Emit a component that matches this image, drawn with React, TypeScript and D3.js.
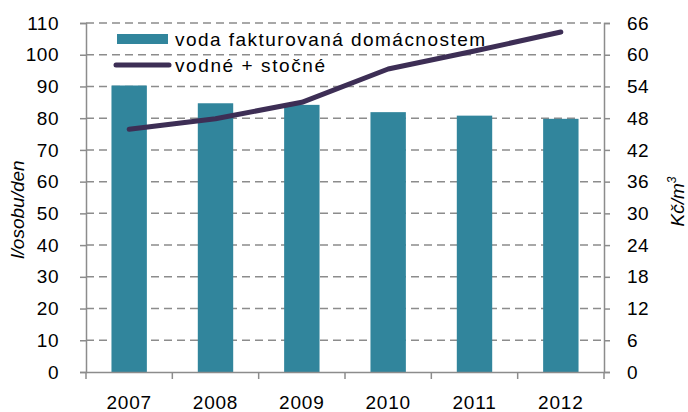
import React, { useEffect, useRef } from "react";
import * as d3 from "d3";

const years = ["2007", "2008", "2009", "2010", "2011", "2012"];
const waterPerPerson = [90.3, 84.7, 84.2, 81.9, 80.8, 79.8];
const price = [45.9, 47.9, 51.0, 57.3, 60.7, 64.3];
const leftTicks = [0, 10, 20, 30, 40, 50, 60, 70, 80, 90, 100, 110];
const rightTicks = [0, 6, 12, 18, 24, 30, 36, 42, 48, 54, 60, 66];

const App = () => {
    const ref = useRef<SVGSVGElement>(null);

    useEffect(() => {
        const width = 688;
        const height = 412;
        const margin = { top: 23, right: 84, bottom: 40, left: 86 };
        const font = "'Liberation Sans', Arial, sans-serif";
        const fs = "19px";

        const svg = d3.select(ref.current);
        svg.selectAll("*").remove();

        const x = d3.scaleBand()
            .domain(years)
            .range([margin.left, width - margin.right])
            .paddingInner(0.59)
            .paddingOuter(0.295);

        const y = d3.scaleLinear()
            .domain([0, 110])
            .range([height - margin.bottom, margin.top]);

        const y2 = d3.scaleLinear()
            .domain([0, 66])
            .range([height - margin.bottom, margin.top]);

        // dashed gridlines
        svg.append("g")
            .selectAll("line")
            .data(leftTicks.slice(1))
            .enter()
            .append("line")
            .attr("x1", margin.left)
            .attr("x2", width - margin.right)
            .attr("y1", d => y(d))
            .attr("y2", d => y(d))
            .attr("stroke", "#8c8c8c")
            .attr("stroke-width", 1.5)
            .attr("stroke-dasharray", "8,5");

        // bars
        svg.append("g")
            .selectAll("rect")
            .data(waterPerPerson)
            .enter()
            .append("rect")
            .attr("x", (d, i) => x(years[i])!)
            .attr("y", d => y(d))
            .attr("width", x.bandwidth())
            .attr("height", d => y(0) - y(d))
            .attr("fill", "#31859c");

        // left axis
        const left = svg.append("g")
            .attr("transform", `translate(${margin.left},0)`)
            .call(d3.axisLeft(y).tickValues(leftTicks).tickSize(6).tickPadding(21));
        left.select(".domain").attr("stroke", "#8c8c8c").attr("stroke-width", 1.5);
        left.selectAll(".tick line").attr("stroke", "#8c8c8c").attr("stroke-width", 1.5);
        left.selectAll("text")
            .attr("fill", "#000")
            .style("font-family", font)
            .style("font-size", fs)
            .style("letter-spacing", "0.5px");

        // right axis
        const right = svg.append("g")
            .attr("transform", `translate(${width - margin.right},0)`)
            .call(d3.axisRight(y2).tickValues(rightTicks).tickSize(6).tickPadding(17));
        right.select(".domain").attr("stroke", "#8c8c8c").attr("stroke-width", 1.5);
        right.selectAll(".tick line").attr("stroke", "#8c8c8c").attr("stroke-width", 1.5);
        right.selectAll("text")
            .attr("fill", "#000")
            .style("font-family", font)
            .style("font-size", fs)
            .style("letter-spacing", "0.5px");

        // bottom axis
        const bottom = svg.append("g")
            .attr("transform", `translate(0,${height - margin.bottom})`)
            .call(d3.axisBottom(x).tickSize(0).tickPadding(24));
        bottom.select(".domain").attr("stroke", "#8c8c8c").attr("stroke-width", 1.5);
        bottom.selectAll("text")
            .attr("fill", "#000")
            .style("font-family", font)
            .style("font-size", fs)
            .style("letter-spacing", "0.8px");

        // category boundary ticks
        const step = x.step();
        const bounds = d3.range(years.length + 1).map(i => margin.left + i * step);
        svg.append("g")
            .selectAll("line")
            .data(bounds)
            .enter()
            .append("line")
            .attr("x1", d => d)
            .attr("x2", d => d)
            .attr("y1", y(0))
            .attr("y2", y(0) + 7)
            .attr("stroke", "#8c8c8c")
            .attr("stroke-width", 1.5);

        // price line
        const line = d3.line<number>()
            .x((d, i) => x(years[i])! + x.bandwidth() / 2)
            .y(d => y2(d));
        svg.append("path")
            .datum(price)
            .attr("d", line)
            .attr("fill", "none")
            .attr("stroke", "#3d2e55")
            .attr("stroke-width", 5)
            .attr("stroke-linecap", "round")
            .attr("stroke-linejoin", "round");

        // axis titles
        svg.append("text")
            .attr("transform", `translate(24,${(margin.top + height - margin.bottom) / 2 + 12}) rotate(-90)`)
            .attr("text-anchor", "middle")
            .style("font-family", font)
            .style("font-size", fs)
            .style("font-style", "italic")
            .text("l/osobu/den");

        const kc = svg.append("text")
            .attr("transform", `translate(684,${(margin.top + height - margin.bottom) / 2 + 4}) rotate(-90)`)
            .attr("text-anchor", "middle")
            .style("font-family", font)
            .style("font-size", fs)
            .style("font-style", "italic");
        kc.append("tspan").text("Kč/m");
        kc.append("tspan").attr("dy", -8).style("font-size", "12px").text("3");

        // legend
        const legend = svg.append("g");
        legend.append("rect")
            .attr("x", 117).attr("y", 34).attr("width", 51).attr("height", 10)
            .attr("fill", "#31859c");
        legend.append("line")
            .attr("x1", 116).attr("x2", 169).attr("y1", 65).attr("y2", 65)
            .attr("stroke", "#3d2e55").attr("stroke-width", 5).attr("stroke-linecap", "round");
        legend.append("text")
            .attr("x", 175).attr("y", 46)
            .style("font-family", font).style("font-size", fs)
            .attr("textLength", 310)
            .text("voda fakturovaná domácnostem");
        legend.append("text")
            .attr("x", 175).attr("y", 72)
            .style("font-family", font).style("font-size", fs)
            .attr("textLength", 150)
            .text("vodné + stočné");
    }, []);

    return (
        <svg ref={ref} width={688} height={412}
            style={{ position: "absolute", left: 0, top: 0, background: "#fff" }} />
    );
};

export default App;
